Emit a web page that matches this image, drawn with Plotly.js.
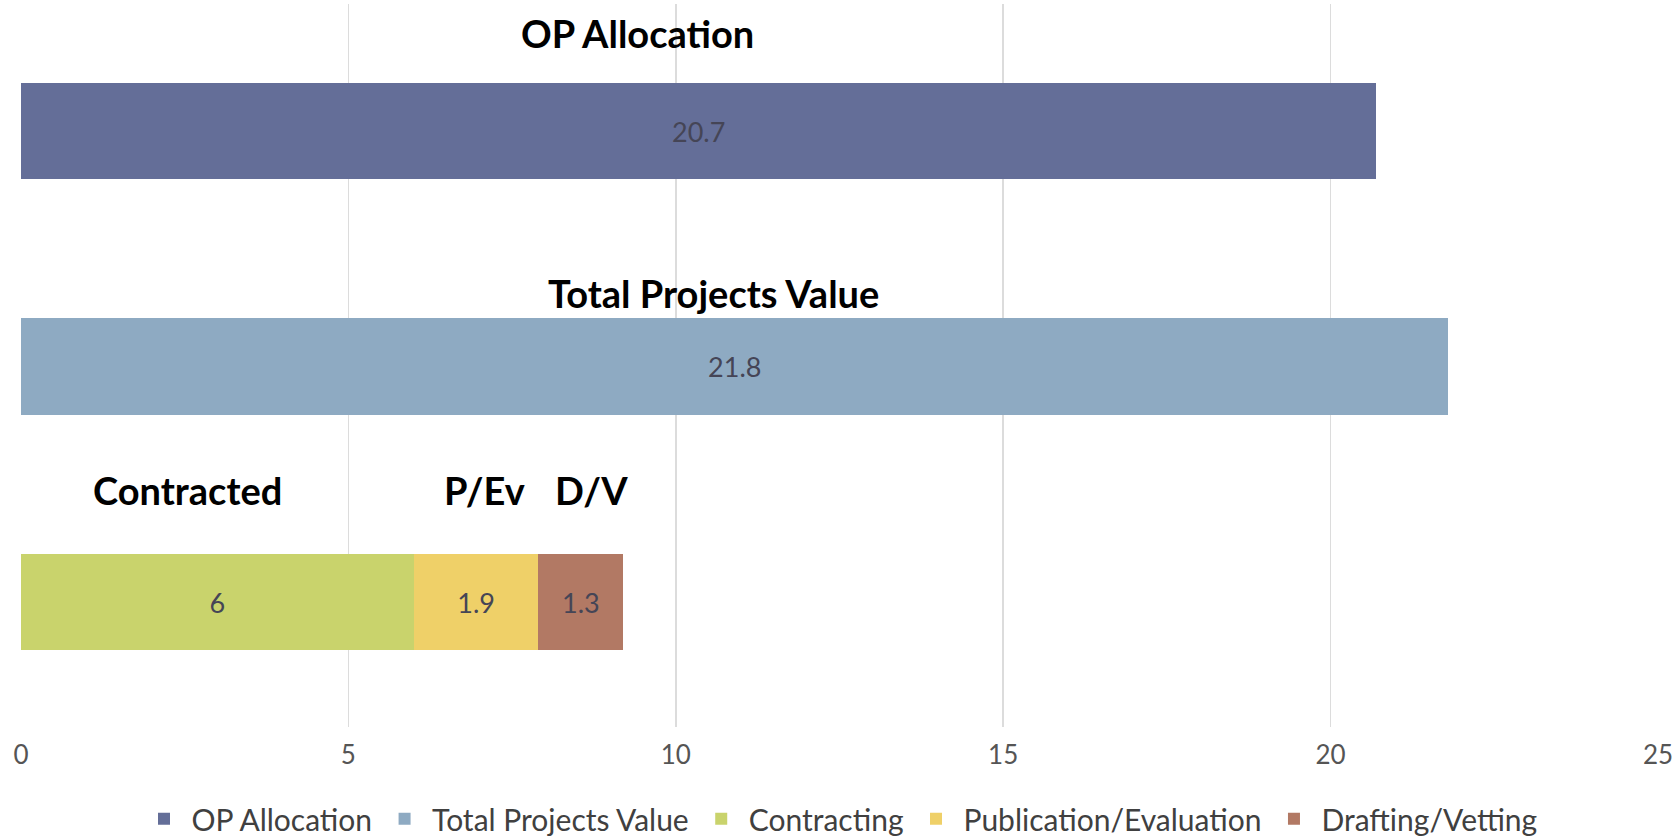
<!DOCTYPE html>
<html>
<head>
<meta charset="utf-8">
<script src="https://cdn.plot.ly/plotly-3.0.1.min.js"></script>
<style>html,body{margin:0;padding:0;background:#fff;}#chart{width:1677px;height:839px;}</style>
</head>
<body>
<div id="chart"></div>
<script>
// Data
const categories = ["OP Allocation", "Total Projects Value", "Contracted"];
const seriesNames = ["OP Allocation", "Total Projects Value", "Contracting", "Publication/Evaluation", "Drafting/Vetting"];
const seriesCategory = ["OP Allocation", "Total Projects Value", "Contracted", "Contracted", "Contracted"];
const seriesValues = [20.7, 21.8, 6, 1.9, 1.3];
const groupLabels = ["OP Allocation", "Total Projects Value", "Contracted", "P/Ev", "D/V"];
const tickValues = [0, 5, 10, 15, 20, 25];

// Styles
const colors = ["#646e98", "#8eaac2", "#c9d36c", "#efd068", "#b27964"];
const labelShift = [[-61, 98], [-21, 74], [-30, 112], [8, 112], [11, 112]];
const FONT = "Lato, 'Open Sans', sans-serif";

const traces = seriesNames.map((name, i) => ({
  type: "bar",
  orientation: "h",
  name: name,
  y: [seriesCategory[i]],
  x: [seriesValues[i]],
  text: [String(seriesValues[i])],
  textposition: "inside",
  insidetextanchor: "middle",
  textfont: {family: FONT, size: 27, color: "#454556"},
  marker: {color: colors[i], line: {width: 0}},
  hoverinfo: "x+name"
}));

// label annotations centered over each segment (stack start computed from data)
const annotations = [];
const stackStart = {};
seriesNames.forEach((name, i) => {
  const cat = seriesCategory[i];
  const start = stackStart[cat] || 0;
  stackStart[cat] = start + seriesValues[i];
  annotations.push({
    x: start + seriesValues[i] / 2,
    y: cat,
    xref: "x", yref: "y",
    text: "<b>" + groupLabels[i] + "</b>",
    showarrow: false,
    xshift: labelShift[i][0],
    yshift: labelShift[i][1],
    font: {family: FONT, size: 38, color: "#000000"}
  });
});

const layout = {
  width: 1677, height: 839,
  margin: {l: 21, r: 19, t: 4, b: 112},
  paper_bgcolor: "#ffffff",
  plot_bgcolor: "#ffffff",
  barmode: "stack",
  bargap: 0.59,
  showlegend: true,
  legend: {
    orientation: "h",
    x: 0.5, xanchor: "center",
    yref: "container",
    y: 0.024, yanchor: "middle",
    itemwidth: 45,
    font: {family: FONT, size: 30, color: "#404040"},
    traceorder: "normal"
  },
  xaxis: {
    range: [0, 25],
    tickvals: tickValues,
    ticktext: tickValues.map(String),
    showgrid: true,
    gridcolor: "#dcdcdc",
    gridwidth: 1.5,
    zeroline: false,
    showline: false,
    ticks: "",
    ticklabelstandoff: 10,
    tickfont: {family: FONT, size: 26, color: "#555555"},
    automargin: false,
    fixedrange: true
  },
  yaxis: {
    type: "category",
    categoryorder: "array",
    categoryarray: categories,
    range: [2.53, -0.54],
    showticklabels: false,
    showgrid: false,
    zeroline: false,
    showline: false,
    ticks: "",
    automargin: false,
    fixedrange: true
  },
  annotations: annotations,
  font: {family: FONT}
};

Plotly.newPlot("chart", traces, layout, {displayModeBar: false, staticPlot: true});
</script>
</body>
</html>
